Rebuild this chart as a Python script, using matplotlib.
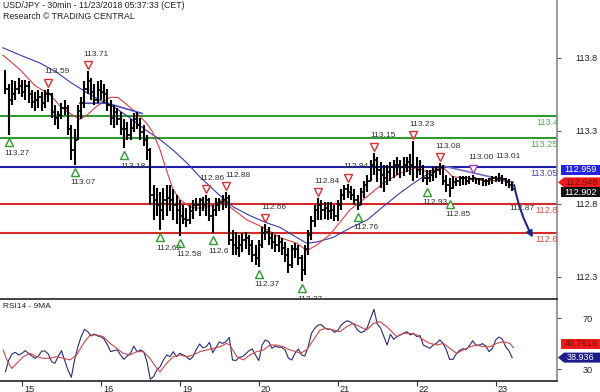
import numpy as np
import matplotlib
matplotlib.use("Agg")
import matplotlib.pyplot as plt
from matplotlib.transforms import offset_copy, blended_transform_factory
from matplotlib.patches import Polygon

plt.rcParams['font.family'] = ['Liberation Sans', 'DejaVu Sans']

# ---------------- data (hourly bars, index 0..154) ----------------
highs = [113.72, 113.62, 113.65, 113.64, 113.66, 113.65, 113.65, 113.64, 113.58, 113.57,
         113.58, 113.57, 113.58, 113.59, 113.56, 113.48, 113.44, 113.49, 113.51, 113.48,
         113.34, 113.31, 113.48, 113.53, 113.64, 113.71, 113.66, 113.62, 113.64, 113.65,
         113.62, 113.59, 113.51, 113.48, 113.46, 113.43, 113.38, 113.36, 113.38, 113.42,
         113.43, 113.39, 113.34, 113.27, 113.18, 112.93, 112.91, 112.88, 112.91, 112.93,
         112.93, 112.90, 112.86, 112.83, 112.79, 112.77, 112.79, 112.83, 112.84, 112.84,
         112.85, 112.86, 112.84, 112.79, 112.84, 112.84, 112.86, 112.88, 112.86, 112.62,
         112.61, 112.59, 112.60, 112.61, 112.59, 112.55, 112.52, 112.55, 112.64, 112.66,
         112.64, 112.61, 112.59, 112.59, 112.57, 112.54, 112.50, 112.52, 112.53, 112.52,
         112.45, 112.52, 112.62, 112.72, 112.79, 112.84, 112.83, 112.81, 112.81, 112.81,
         112.79, 112.83, 112.90, 112.93, 112.94, 112.92, 112.90, 112.86, 112.91, 112.96,
         113.00, 113.10, 113.15, 113.12, 113.09, 113.07, 113.07, 113.09, 113.10, 113.12,
         113.10, 113.12, 113.12, 113.14, 113.23, 113.12, 113.10, 113.07, 113.03, 113.03,
         113.05, 113.06, 113.08, 113.07, 113.00, 112.98, 112.99, 112.98, 112.99, 112.99,
         112.99, 112.99, 113.00, 112.98, 112.98, 112.98, 112.97, 112.98, 112.99, 112.99,
         113.01, 113.00, 112.98, 112.97, 112.95]
lows = [113.55, 113.27, 113.48, 113.51, 113.55, 113.53, 113.51, 113.49, 113.46, 113.44,
        113.46, 113.44, 113.46, 113.50, 113.39, 113.34, 113.31, 113.38, 113.41, 113.27,
        113.10, 113.07, 113.24, 113.38, 113.46, 113.55, 113.51, 113.48, 113.49, 113.51,
        113.49, 113.44, 113.34, 113.32, 113.34, 113.27, 113.18, 113.24, 113.24, 113.29,
        113.31, 113.24, 113.20, 113.10, 112.79, 112.69, 112.72, 112.62, 112.69, 112.72,
        112.75, 112.69, 112.66, 112.58, 112.66, 112.64, 112.66, 112.70, 112.75, 112.72,
        112.75, 112.72, 112.68, 112.60, 112.72, 112.75, 112.76, 112.77, 112.52, 112.45,
        112.45, 112.44, 112.47, 112.49, 112.45, 112.40, 112.38, 112.37, 112.50, 112.55,
        112.52, 112.49, 112.47, 112.47, 112.45, 112.40, 112.33, 112.36, 112.43, 112.38,
        112.27, 112.31, 112.45, 112.55, 112.64, 112.69, 112.69, 112.70, 112.69, 112.70,
        112.68, 112.68, 112.76, 112.83, 112.84, 112.83, 112.79, 112.76, 112.79, 112.84,
        112.88, 112.96, 113.00, 112.95, 112.91, 112.88, 112.93, 112.96, 112.98, 113.00,
        112.98, 112.99, 113.02, 113.00, 112.96, 112.98, 113.00, 112.95, 112.93, 112.95,
        112.96, 112.98, 113.00, 112.93, 112.88, 112.85, 112.90, 112.92, 112.92, 112.93,
        112.93, 112.94, 112.95, 112.94, 112.93, 112.92, 112.92, 112.93, 112.94, 112.95,
        112.95, 112.94, 112.92, 112.91, 112.89]
closes = [113.59, 113.51, 113.55, 113.59, 113.61, 113.57, 113.61, 113.55, 113.50, 113.51,
          113.53, 113.49, 113.55, 113.55, 113.43, 113.39, 113.41, 113.46, 113.46, 113.31,
          113.17, 113.24, 113.44, 113.49, 113.59, 113.64, 113.57, 113.51, 113.58, 113.57,
          113.55, 113.48, 113.39, 113.43, 113.38, 113.31, 113.31, 113.27, 113.32, 113.38,
          113.34, 113.29, 113.24, 113.17, 112.86, 112.83, 112.79, 112.76, 112.83, 112.84,
          112.83, 112.79, 112.76, 112.72, 112.70, 112.69, 112.75, 112.79, 112.79, 112.83,
          112.79, 112.83, 112.72, 112.76, 112.79, 112.81, 112.83, 112.84, 112.55, 112.52,
          112.50, 112.52, 112.55, 112.57, 112.52, 112.45, 112.43, 112.52, 112.60, 112.61,
          112.57, 112.54, 112.52, 112.54, 112.50, 112.45, 112.38, 112.49, 112.49, 112.43,
          112.35, 112.49, 112.59, 112.68, 112.76, 112.79, 112.76, 112.77, 112.75, 112.76,
          112.72, 112.79, 112.86, 112.90, 112.88, 112.86, 112.83, 112.79, 112.88, 112.93,
          112.96, 113.07, 113.10, 113.03, 113.00, 112.98, 113.02, 113.05, 113.07, 113.07,
          113.05, 113.07, 113.09, 113.07, 113.05, 113.03, 113.05, 112.98, 112.98, 113.00,
          113.02, 113.03, 113.05, 112.96, 112.93, 112.91, 112.95, 112.96, 112.98, 112.98,
          112.96, 112.97, 112.98, 112.97, 112.97, 112.96, 112.96, 112.97, 112.98, 112.97,
          112.98, 112.97, 112.95, 112.93, 112.90]

day_start_idx = [5, 29, 53, 77, 101, 125, 149]
day_labels = ['15', '16', '19', '20', '21', '22', '23']

# moving averages on price (sampled readings)
ma_red_idx = [-0.8, 4.4, 9.0, 13.5, 16.6, 19.6, 22.6, 24.8, 27.8, 31.8, 34.2, 36.9, 40.0,
              43.0, 44.8, 47.0, 49.1, 50.9, 53.0, 56.1, 59.1, 63.1, 65.8, 68.2, 73.4, 78.3,
              83.4, 88.6, 91.6, 94.7, 98.6, 104.7, 109.9, 114.7, 119.9, 125.1, 128.1, 133.0,
              136.0, 140.3, 145.1, 150.3, 154.3]
ma_red_val = [113.82, 113.72, 113.61, 113.55, 113.47, 113.42, 113.38, 113.41, 113.47, 113.53,
              113.53, 113.48, 113.42, 113.35, 113.29, 113.17, 113.02, 112.90, 112.83, 112.78,
              112.77, 112.79, 112.83, 112.78, 112.69, 112.64, 112.57, 112.53, 112.48, 112.52,
              112.59, 112.76, 112.85, 112.94, 113.01, 113.05, 113.02, 113.05, 112.985, 112.98,
              112.96, 112.96, 112.95]
ma_blue_idx = [-0.8, 4.4, 10.5, 15.7, 19.6, 24.2, 28.7, 33.3, 37.8, 42.4, 47.0, 50.9, 55.2,
               59.1, 64.3, 69.2, 74.3, 79.5, 83.4, 88.6, 91.6, 94.7, 99.5, 104.7, 109.9,
               114.7, 119.9, 123.9, 126.9, 130.5, 133.0]
ma_blue_val = [113.87, 113.82, 113.765, 113.70, 113.635, 113.57, 113.51, 113.46, 113.39,
               113.31, 113.24, 113.17, 113.08, 112.985, 112.875, 112.78, 112.72, 112.67,
               112.64, 112.57, 112.53, 112.54, 112.57, 112.635, 112.69, 112.78, 112.875,
               112.94, 112.985, 113.03, 113.05]
trend_a_idx = [22.6, 30.9, 41.5]
trend_a_val = [113.49, 113.49, 113.42]
trend_b_idx = [133.0, 154.3]
trend_b_val = [113.06, 112.95]

levels = [113.4, 113.25, 113.05, 112.8, 112.6]
level_names = ['113.4', '113.25', '113.05', '112.8', '112.6']

res_idx = [13, 25, 61, 67, 79, 95, 104, 112, 124, 132, 142]
res_val = [113.59, 113.71, 112.86, 112.88, 112.66, 112.84, 112.94, 113.15, 113.23, 113.08, 113.00]
sup_idx = [1, 21, 36, 47, 53, 63, 77, 90, 107, 128, 135]
sup_val = [113.27, 113.07, 113.18, 112.62, 112.58, 112.60, 112.37, 112.27, 112.76, 112.93, 112.85]
sup_text = ['113.27', '113.07', '113.18', '112.62', '112.58', '112.6', '112.37', '112.27',
            '112.76', '112.93', '112.85']
extra_high_idx = 150
extra_high_val = 113.01

forecast_from = (154.6, 112.93)
forecast_to = (160.3, 112.57)
forecast_label = '112.87'

price_ticks = [113.8, 113.3, 112.8, 112.3]
tag_blue_ma = 112.959
tag_red_ma = 112.948
tag_last = 112.902

rsi = [27.9, 37.1, 41.8, 43.1, 41.0, 42.3, 44.4, 42.3, 40.2, 38.4,
       40.2, 44.1, 44.1, 41.8, 35.8, 34.5, 39.7, 44.4, 36.6, 29.2,
       23.5, 37.1, 47.5, 55.4, 61.1, 59.3, 55.9, 57.5, 55.9, 55.4,
       53.3, 48.8, 43.6, 44.4, 44.9, 41.0, 37.6, 40.2, 42.3, 48.0,
       43.6, 44.9, 43.6, 35.8, 22.0, 24.0, 29.2, 31.8, 37.1, 41.0,
       39.7, 43.6, 39.7, 42.3, 41.0, 39.7, 37.3, 39.7, 45.4, 49.6,
       46.7, 47.5, 50.9, 42.8, 47.0, 51.2, 50.1, 51.4, 54.8, 37.1,
       36.6, 39.2, 39.7, 41.8, 44.4, 45.7, 41.0, 36.6, 48.8, 52.8,
       51.4, 46.2, 48.0, 47.0, 47.0, 44.9, 38.4, 37.1, 42.3, 45.7,
       41.0, 40.2, 47.5, 58.0, 61.9, 64.5, 64.8, 62.2, 61.1, 61.1,
       58.8, 60.1, 64.3, 66.6, 67.9, 66.6, 64.8, 60.6, 58.5, 59.5,
       62.7, 70.0, 76.8, 65.3, 62.2, 55.4, 48.8, 57.2, 53.3, 55.4,
       56.7, 58.0, 59.3, 56.7, 58.0, 55.4, 56.2, 48.8, 47.5, 46.2,
       48.8, 50.1, 52.8, 50.1, 44.9, 37.6, 37.6, 41.8, 44.6, 46.0,
       45.2, 48.3, 52.2, 48.6, 48.8, 49.9, 48.0, 43.6, 46.2, 52.8,
       55.1, 53.5, 47.5, 44.4, 38.94]
rsi_ma_idx = [-0.7, 0.4, 1.9, 3.4, 5.4, 7.5, 9.5, 11.5, 13.5, 15.6, 17.6, 19.6, 21.6, 23.7,
              25.7, 27.7, 29.7, 31.8, 33.8, 35.8, 37.8, 39.9, 41.9, 43.9, 46.0, 47.0, 49.0,
              51.0, 53.0, 55.1, 57.1, 59.1, 61.1, 63.2, 65.2, 67.2, 68.2, 70.3, 72.3, 74.3,
              76.3, 78.4, 80.4, 82.4, 84.4, 86.5, 88.5, 89.5, 91.5, 93.6, 95.6, 97.6, 99.6,
              101.7, 103.7, 105.7, 107.7, 109.8, 111.8, 113.8, 115.9, 116.9, 118.9, 120.9,
              122.9, 125.0, 127.0, 129.0, 131.1, 133.1, 135.1, 137.1, 139.2, 141.2, 143.2,
              145.2, 147.3, 149.3, 151.3, 153.3, 154.4]
rsi_ma_val = [44.9, 37.1, 30.5, 34.5, 39.7, 42.3, 39.7, 38.4, 38.4, 39.7, 38.4, 37.1, 41.0,
              50.1, 56.7, 56.7, 55.4, 50.1, 46.2, 42.3, 41.0, 43.6, 43.6, 38.4, 30.5, 27.9,
              34.5, 39.7, 41.0, 39.7, 41.0, 43.6, 44.9, 46.2, 47.5, 50.1, 48.8, 39.7, 37.1,
              41.0, 43.6, 44.9, 48.8, 48.8, 47.5, 44.9, 43.6, 42.3, 44.9, 52.8, 60.6, 61.9,
              60.6, 59.3, 63.2, 65.8, 63.2, 60.6, 65.8, 67.1, 63.2, 60.6, 55.4, 58.0, 58.0,
              56.7, 52.8, 50.1, 48.8, 50.1, 46.2, 42.3, 44.9, 47.5, 48.8, 47.5, 47.5, 50.1,
              51.4, 50.1, 46.76]
rsi_ticks = [70, 30]
rsi_last = 38.936
rsi_ma_last = 46.7619

# ---------------- layout ----------------
W, H = 600, 392
fig = plt.figure(figsize=(W / 100, H / 100), dpi=100)
fig.patch.set_facecolor('white')


def px_rect(x0, y0, x1, y1):
    return [x0 / W, 1 - y1 / H, (x1 - x0) / W, (y1 - y0) / H]


ax = fig.add_axes(px_rect(0, 0, 557, 299))
axr = fig.add_axes(px_rect(0, 299, 557, 381))
XL = (-1.67, 167.63)
for a in (ax, axr):
    a.set_xlim(*XL)
    a.set_facecolor('white')
ax.set_ylim(112.149, 114.197)
axr.set_ylim(20.6, 84.9)

for s in ['left', 'top', 'bottom']:
    ax.spines[s].set_visible(False)
ax.spines['right'].set_color('#8a8a8a')
ax.spines['right'].set_linewidth(1.2)
axr.spines['left'].set_visible(False)
axr.spines['top'].set_color('#333333')
axr.spines['top'].set_linewidth(1.3)
axr.spines['bottom'].set_color('#333333')
axr.spines['bottom'].set_linewidth(1.3)
axr.spines['right'].set_color('#8a8a8a')
axr.spines['right'].set_linewidth(1.2)

# ---------------- price panel ----------------
idx = np.arange(len(closes))
opens = [closes[0]] + closes[:-1]

level_colors = ['#2f9a2f', '#2f9a2f', '#1f1fae', '#d42a2a', '#d42a2a']
level_text_colors = ['#56a856', '#56a856', '#4848c4', '#d25050', '#d25050']
for v, c in zip(levels, level_colors):
    ax.axhline(v, color=c, lw=1.5, zorder=2)

ax.plot(ma_blue_idx, ma_blue_val, color='#3a3ab0', lw=0.8, zorder=3)
ax.plot(ma_red_idx, ma_red_val, color='#d84040', lw=0.8, zorder=3)
ax.plot(trend_a_idx, trend_a_val, color='#4a4ab8', lw=1.2, zorder=3)
ax.plot(trend_b_idx, trend_b_val, color='#7a6ac0', lw=1.2, zorder=3)

ax.vlines(idx, lows, highs, color='black', lw=1.5, zorder=4)
ax.hlines(closes, idx, idx + 0.5, color='black', lw=1.2, zorder=4)
ax.hlines(opens, idx - 0.5, idx, color='black', lw=1.2, zorder=4)

blend = blended_transform_factory(ax.transAxes, ax.transData)
for v, name, c in zip(levels, level_names, level_text_colors):
    ax.annotate(name, (1.0, v), xycoords=blend, xytext=(1, -2), textcoords='offset pixels',
                ha='right', va='top', fontsize=6.6, color=c, annotation_clip=False, zorder=5)

txt_col = '#333333'
up_t = offset_copy(ax.transData, fig=fig, x=0, y=6, units='dots')
dn_t = offset_copy(ax.transData, fig=fig, x=0, y=-7, units='dots')
res_dx = [-4, -4, -7, -1, -4, -4, -4, -4, -4, -4, -4]
for i, v, dx in zip(res_idx, res_val, res_dx):
    col = '#a040b0' if abs(v - 113.00) < 1e-9 else '#d83030'
    ax.plot([i], [v], marker='v', ms=6, mfc='white', mec=col, mew=1.0, transform=up_t, zorder=6)
    ax.annotate(f'{v:.2f}', (i, v), xytext=(dx, 17), textcoords='offset pixels',
                ha='left', va='center', fontsize=6.0, color=txt_col, zorder=7)
ax.annotate(f'{extra_high_val:.2f}', (extra_high_idx, extra_high_val), xytext=(-4, 17),
            textcoords='offset pixels', ha='left', va='center', fontsize=6.0, color=txt_col)
for i, v, t in zip(sup_idx, sup_val, sup_text):
    ax.plot([i], [v], marker='^', ms=6, mfc='white', mec='#2f9a2f', mew=1.0, transform=dn_t, zorder=6)
    ax.annotate(t, (i, v), xytext=(-4, -18), textcoords='offset pixels',
                ha='left', va='center', fontsize=6.0, color=txt_col, zorder=7)

ax.annotate('', xy=forecast_to, xytext=forecast_from,
            arrowprops=dict(arrowstyle='-|>', color='#1c2a86', lw=1.5, mutation_scale=9,
                            shrinkA=0, shrinkB=0, connectionstyle='arc3,rad=0.08'), zorder=8)
ax.annotate(forecast_label, (157.0, 112.77), ha='center', va='center', fontsize=6.0,
            color=txt_col, zorder=8)

ax.set_xticks([])
ax.yaxis.tick_right()
ax.set_yticks(price_ticks)
ax.set_yticklabels([f'{t:.1f}' for t in price_ticks])
ax.tick_params(axis='y', length=3, color='#555555', labelsize=6.6, pad=10.5, labelcolor='#222222')

# ---------------- RSI panel ----------------
axr.plot(idx, rsi, color='#2a2a78', lw=0.8, zorder=3)
axr.plot(rsi_ma_idx, rsi_ma_val, color='#c84848', lw=0.8, zorder=4)
axr.yaxis.tick_right()
axr.set_yticks(rsi_ticks)
axr.set_yticklabels([str(t) for t in rsi_ticks])
axr.tick_params(axis='y', length=3, color='#555555', labelsize=6.6, pad=15.5, labelcolor='#222222')
axr.set_xticks(day_start_idx)
axr.set_xticklabels([])
axr.tick_params(axis='x', length=3.5, color='#333333', direction='out')
xb = blended_transform_factory(axr.transData, axr.transAxes)
for d, lab in zip(day_start_idx, day_labels):
    axr.annotate(lab, (d, 0), xycoords=xb, xytext=(2, -8), textcoords='offset pixels',
                 ha='left', va='center', fontsize=6.6, color='#222222', annotation_clip=False)

# ---------------- value tags ----------------
def tag(a, value, text, face, tcol, dy=0, pointer=False):
    fig.canvas.draw()
    ypx = a.transData.transform((0, value))[1] + dy  # display px from bottom
    h = 10
    x0, x1 = 558, 600
    if pointer:
        pts = [(x0 + 6, ypx + h / 2), (x1, ypx + h / 2), (x1, ypx - h / 2), (x0 + 6, ypx - h / 2), (x0, ypx)]
    else:
        pts = [(x0 + 3, ypx + h / 2), (x1, ypx + h / 2), (x1, ypx - h / 2), (x0 + 3, ypx - h / 2)]
    pts = [(x / W, y / H) for x, y in pts]
    fig.patches.append(Polygon(pts, closed=True, transform=fig.transFigure, facecolor=face,
                               edgecolor='none', zorder=10))
    fig.text(581 / W, ypx / H, text, ha='center', va='center', fontsize=6.6, color=tcol, zorder=11)


tag(ax, tag_blue_ma, f'{tag_blue_ma:.3f}', '#2424e0', 'white', dy=11)
tag(ax, tag_red_ma, f'{tag_red_ma:.3f}', '#ee1c1c', '#7a0a0a', dy=0, pointer=True)
tag(ax, tag_last, f'{tag_last:.3f}', '#111111', 'white', dy=-3)
tag(axr, rsi_ma_last, f'{rsi_ma_last:.4f}', '#ee1c1c', '#7a0a0a', dy=4)
tag(axr, rsi_last, f'{rsi_last:.3f}', '#1c1c8a', 'white', dy=0, pointer=True)

# ---------------- titles ----------------
fig.text(3 / W, 1 - 5.5 / H, 'USD/JPY - 30min - 11/23/2018 05:37:33 (CET)', ha='left', va='center',
         fontsize=6.3, color='#222222')
fig.text(3 / W, 1 - 16.5 / H, 'Research \u00a9 TRADING CENTRAL', ha='left', va='center',
         fontsize=6.3, color='#222222')
fig.text(3 / W, 1 - 306 / H, 'RSI14 - 9MA', ha='left', va='center', fontsize=6.0, color='#222222')

fig.savefig('out.png', dpi=100)
